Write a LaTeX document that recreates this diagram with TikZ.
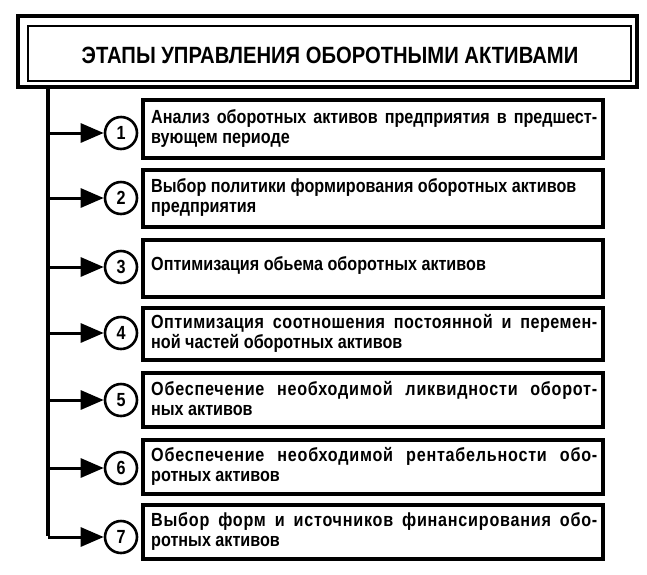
\documentclass[tikz,border=0pt]{standalone}
\usepackage{fontspec}
\setmainfont{Liberation Sans}[FakeStretch=0.85]
\newfontfamily\titlefont{Liberation Sans}[FakeStretch=0.86]
\usetikzlibrary{arrows.meta}
\newcommand{\trk}[2]{{\addfontfeature{LetterSpace=#1}#2}}
\begin{document}
\begin{tikzpicture}[x=1pt,y=-1pt,
  stagetext/.style={font=\bfseries\fontsize{19}{20}\selectfont,text width=446pt,align=justify,anchor=west,inner sep=0pt},
  numc/.style={draw,circle,line width=2.6pt,minimum size=32pt,inner sep=0pt,font=\bfseries\fontsize{19}{19}\selectfont},
  arr/.style={line width=3pt,-{Triangle[length=23pt,width=19pt]}}]
\useasboundingbox (0,0) rectangle (647,574);
% title
\draw[line width=4.5pt] (18,16) rectangle (637,87);
\draw[line width=2pt] (28,26) rectangle (631,81);
\node[font=\titlefont\bfseries\fontsize{23.5}{23.5}\selectfont] (title) at (330,55) {ЭТАПЫ УПРАВЛЕНИЯ ОБОРОТНЫМИ АКТИВАМИ};
\coordinate (top) at (48,87);
% boxes
\foreach \i/\t/\b in {1/100/158,2/170/227,3/240/297,4/308/360,5/373/427,6/440/494,7/505/559}{
  \draw[line width=3.2pt] (143,\t) rectangle (603,\b);
}
\node[stagetext] (t1) at (151,128) {Анализ оборотных активов предприятия в предшест-\linebreak вующем периоде};
\node[stagetext] (t2) at (151,197) {Выбор политики формирования оборотных активов\newline предприятия};
\node[stagetext] (t3) at (151,265) {Оптимизация обьема оборотных активов};
\node[stagetext] (t4) at (151,333) {\trk{2.5}{Оптимизация соотношения постоянной и перемен-}\linebreak ной частей оборотных активов};
\node[stagetext] (t5) at (151,399) {\trk{4}{Обеспечение необходимой ликвидности оборот-}\linebreak ных активов};
\node[stagetext] (t6) at (151,466) {\trk{4}{Обеспечение необходимой рентабельности обо-}\linebreak ротных активов};
\node[stagetext] (t7) at (151,531) {\trk{4}{Выбор форм и источников финансирования обо-}\linebreak ротных активов};
% circles
\foreach \i/\y in {1/133,2/198,3/267,4/333,5/400,6/468,7/537}{
  \node[numc,fill=white] (c\i) at (121,\y) {\i};
  \coordinate (j\i) at (48,\y);
  \draw[arr] (j\i) -- (c\i.west);
}
\draw[line width=4pt] (top) -- ([yshift=1.5pt]j7);
\end{tikzpicture}
\end{document}
